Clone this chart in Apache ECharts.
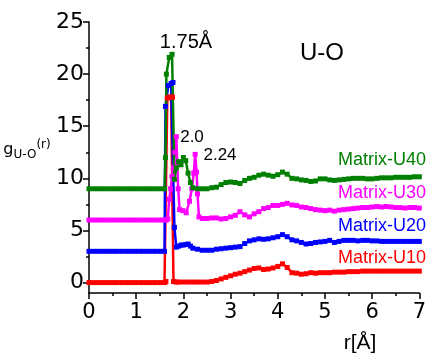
<!DOCTYPE html>
<html>
<head>
<meta charset="utf-8">
<script src="https://cdn.jsdelivr.net/npm/echarts@6/dist/echarts.min.js"></script>
<style>
  html, body { margin: 0; padding: 0; background: #fff; }
  #main { width: 429px; height: 354px; }
</style>
</head>
<body>
<div id="main"></div>
<script>
// g(r) curves, already shifted by +0/+3/+6/+9 as plotted
var matrixU10 = [
  [0, 0], [0.1, 0], [0.2, 0], [0.3, 0], [0.4, 0], [0.5, 0], [0.6, 0], [0.7, 0], [0.8, 0],
  [0.9, 0], [1.0, 0], [1.1, 0], [1.2, 0], [1.3, 0], [1.4, 0], [1.5, 0], [1.6, 0],
  [1.63, 0.1], [1.66, 17.7], [1.7, 17.8], [1.74, 17.8], [1.77, 17.8], [1.79, 0.1],
  [1.85, 0.05], [1.9, 0.05], [2.0, 0.05], [2.1, 0.05], [2.2, 0.05], [2.3, 0.05], [2.4, 0.05],
  [2.5, 0.05], [2.6, 0.1], [2.7, 0.2], [2.8, 0.35], [2.9, 0.5], [3.0, 0.65], [3.1, 0.8],
  [3.2, 0.9], [3.3, 1.05], [3.4, 1.2], [3.5, 1.35], [3.6, 1.4], [3.7, 1.25], [3.8, 1.3],
  [3.9, 1.4], [4.0, 1.55], [4.1, 1.8], [4.2, 1.45], [4.3, 0.95], [4.4, 0.9], [4.5, 0.8],
  [4.6, 0.85], [4.7, 0.95], [4.8, 0.9], [4.9, 0.95], [5.0, 0.95], [5.1, 0.95], [5.2, 1.0],
  [5.3, 1.0], [5.4, 1.0], [5.5, 1.05], [5.6, 1.05], [5.7, 1.05], [5.8, 1.1], [5.9, 1.1],
  [6.0, 1.1], [6.1, 1.1], [6.2, 1.1], [6.3, 1.1], [6.4, 1.1], [6.5, 1.1], [6.6, 1.1],
  [6.7, 1.1], [6.8, 1.1], [6.9, 1.1], [7.0, 1.1]
];
var matrixU20 = [
  [0, 3], [0.1, 3], [0.2, 3], [0.3, 3], [0.4, 3], [0.5, 3], [0.6, 3], [0.7, 3], [0.8, 3],
  [0.9, 3], [1.0, 3], [1.1, 3], [1.2, 3], [1.3, 3], [1.4, 3], [1.5, 3], [1.6, 3],
  [1.62, 16.9], [1.68, 18.9], [1.74, 19.1], [1.78, 19.2], [1.81, 5.3], [1.85, 3.4],
  [1.9, 3.5], [1.95, 3.6], [2.0, 3.6], [2.05, 3.65], [2.1, 3.7], [2.15, 3.5], [2.2, 3.3],
  [2.3, 3.2], [2.4, 3.1], [2.5, 3.1], [2.6, 3.1], [2.7, 3.2], [2.8, 3.25], [2.9, 3.3],
  [3.0, 3.35], [3.1, 3.4], [3.2, 3.45], [3.3, 3.75], [3.4, 4.0], [3.5, 4.1], [3.6, 4.2],
  [3.7, 4.15], [3.8, 4.2], [3.9, 4.3], [4.0, 4.4], [4.1, 4.6], [4.2, 4.4], [4.3, 4.1],
  [4.4, 4.0], [4.5, 3.85], [4.6, 3.7], [4.7, 3.75], [4.8, 3.85], [4.9, 3.9], [5.0, 3.95],
  [5.1, 4.05], [5.2, 3.85], [5.3, 3.95], [5.4, 4.05], [5.5, 4.05], [5.6, 4.05], [5.7, 4.0],
  [5.8, 4.05], [5.9, 4.05], [6.0, 4.0], [6.1, 4.0], [6.2, 3.95], [6.3, 3.95], [6.4, 3.95],
  [6.5, 3.95], [6.6, 3.95], [6.7, 3.95], [6.8, 3.95], [6.9, 3.95], [7.0, 3.95]
];
var matrixU30 = [
  [0, 6], [0.1, 6], [0.2, 6], [0.3, 6], [0.4, 6], [0.5, 6], [0.6, 6], [0.7, 6], [0.8, 6],
  [0.9, 6], [1.0, 6], [1.1, 6], [1.2, 6], [1.3, 6], [1.4, 6], [1.5, 6], [1.6, 6],
  [1.64, 6.0], [1.67, 6.1], [1.7, 8.0], [1.73, 9.0], [1.76, 10.2], [1.79, 11.0],
  [1.82, 12.5], [1.85, 14.0], [1.87, 11.5], [1.89, 9.0], [1.92, 7.0], [1.99, 6.9],
  [2.06, 6.7], [2.13, 7.8], [2.18, 9.0], [2.22, 10.5], [2.25, 12.3], [2.28, 10.6],
  [2.3, 8.5], [2.33, 6.3], [2.4, 6.15], [2.5, 6.15], [2.6, 6.2], [2.7, 6.2], [2.8, 6.1],
  [2.9, 6.15], [3.0, 6.3], [3.1, 6.45], [3.2, 6.8], [3.3, 6.5], [3.4, 6.3], [3.5, 6.6],
  [3.6, 6.8], [3.7, 7.1], [3.8, 7.2], [3.9, 7.4], [4.0, 7.4], [4.1, 7.5], [4.2, 7.6],
  [4.3, 7.45], [4.4, 7.4], [4.5, 7.25], [4.6, 7.2], [4.7, 7.1], [4.8, 7.0], [4.9, 6.95],
  [5.0, 6.9], [5.1, 6.95], [5.2, 6.85], [5.3, 6.95], [5.4, 7.0], [5.5, 7.05], [5.6, 7.1],
  [5.7, 7.15], [5.8, 7.2], [5.9, 7.2], [6.0, 7.25], [6.1, 7.3], [6.2, 7.25], [6.3, 7.3],
  [6.4, 7.25], [6.5, 7.2], [6.6, 7.2], [6.7, 7.15], [6.8, 7.2], [6.9, 7.2], [7.0, 7.15]
];
var matrixU40 = [
  [0, 9], [0.1, 9], [0.2, 9], [0.3, 9], [0.4, 9], [0.5, 9], [0.6, 9], [0.7, 9], [0.8, 9],
  [0.9, 9], [1.0, 9], [1.1, 9], [1.2, 9], [1.3, 9], [1.4, 9], [1.5, 9], [1.6, 9],
  [1.62, 12.0], [1.64, 20.0], [1.7, 21.6], [1.76, 21.9], [1.81, 9.9], [1.85, 11.0],
  [1.9, 11.6], [1.95, 11.3], [2.0, 12.0], [2.05, 11.7], [2.1, 10.5], [2.15, 9.6],
  [2.2, 9.1], [2.3, 9.0], [2.4, 9.0], [2.5, 9.0], [2.6, 9.1], [2.7, 9.15], [2.8, 9.4],
  [2.9, 9.6], [3.0, 9.65], [3.1, 9.6], [3.2, 9.5], [3.3, 9.8], [3.4, 10.0], [3.5, 10.1],
  [3.6, 10.3], [3.7, 10.4], [3.8, 10.3], [3.9, 10.2], [4.0, 10.35], [4.1, 10.6], [4.2, 10.4],
  [4.3, 10.0], [4.4, 9.95], [4.5, 9.85], [4.6, 9.8], [4.7, 9.7], [4.8, 9.75], [4.9, 9.95],
  [5.0, 9.95], [5.1, 9.85], [5.2, 9.8], [5.3, 9.85], [5.4, 9.9], [5.5, 9.95], [5.6, 10.0],
  [5.7, 10.0], [5.8, 10.0], [5.9, 9.95], [6.0, 9.95], [6.1, 10.0], [6.2, 10.05], [6.3, 10.05],
  [6.4, 10.05], [6.5, 10.1], [6.6, 10.1], [6.7, 10.1], [6.8, 10.1], [6.9, 10.15], [7.0, 10.15]
];

var seriesNames = ['Matrix-U10', 'Matrix-U20', 'Matrix-U30', 'Matrix-U40'];
var seriesColors = ['#ff0000', '#0000ff', '#ff00ff', '#008000'];
var yTicks = [0, 5, 10, 15, 20, 25];
var yMinorTicks = [2.5, 7.5, 12.5, 17.5, 22.5];

var chart = echarts.init(document.getElementById('main'));

var black = { color: '#000', width: 1.5 };
var allData = [matrixU10, matrixU20, matrixU30, matrixU40];
var series = allData.map(function (d, i) {
  return {
    name: seriesNames[i],
    type: 'line',
    data: d,
    symbol: 'rect',
    symbolSize: 5,
    lineStyle: { color: seriesColors[i], width: 2.5 },
    itemStyle: { color: seriesColors[i] },
    animation: false
  };
});

// curve labels next to the tails (sized to fit inside the frame)
var labelY = [258, 226, 193, 160];
var graphics = seriesNames.map(function (n, i) {
  return {
    type: 'text', x: 426, y: labelY[i],
    style: { text: n, fill: seriesColors[i], font: '18px "Liberation Sans"', align: 'right', verticalAlign: 'middle' }
  };
});
graphics.push(
  { type: 'text', x: 186, y: 42, style: { text: '1.75Å', fill: '#000', font: '20px "Liberation Sans"', align: 'center', verticalAlign: 'middle' } },
  { type: 'text', x: 192, y: 137, style: { text: '2.0', fill: '#000', font: '17px "Liberation Sans"', align: 'center', verticalAlign: 'middle' } },
  { type: 'text', x: 220, y: 155, style: { text: '2.24', fill: '#000', font: '17px "Liberation Sans"', align: 'center', verticalAlign: 'middle' } },
  { type: 'text', x: 322, y: 53, style: { text: 'U-O', fill: '#000', font: '24px "Liberation Sans"', align: 'center', verticalAlign: 'middle' } },
  { type: 'text', x: 360, y: 343, style: { text: 'r[Å]', fill: '#000', font: '21px "Liberation Sans"', align: 'center', verticalAlign: 'middle' } },
  // y axis title, kept in the gap left of the tick labels
  {
    type: 'text', x: 27, y: 150,
    style: {
      text: '{g|g}{s|U-O}{p|(r)}', align: 'center', verticalAlign: 'middle',
      rich: {
        g: { fontSize: 16, fontFamily: 'DejaVu Sans', lineHeight: 22, verticalAlign: 'middle', color: '#000' },
        s: { fontSize: 12, fontFamily: 'DejaVu Sans', lineHeight: 22, verticalAlign: 'bottom', color: '#000' },
        p: { fontSize: 12, fontFamily: 'DejaVu Sans', lineHeight: 22, verticalAlign: 'top', color: '#000' }
      }
    }
  }
);

var option = {
  backgroundColor: '#fff',
  animation: false,
  grid: { left: 89, right: 4, top: 22, bottom: 61 },
  xAxis: {
    type: 'value', min: 0, max: 7, interval: 1,
    axisLine: { show: true, onZero: false, lineStyle: black },
    axisTick: { show: true, length: 6, lineStyle: black },
    minorTick: { show: true, splitNumber: 2, length: 3, lineStyle: black },
    splitLine: { show: false },
    axisLabel: { color: '#000', fontFamily: 'DejaVu Sans', fontSize: 21, margin: 9, showMaxLabel: true }
  },
  yAxis: [{
    type: 'value', min: -1, max: 25,
    axisLine: { show: true, onZero: false, lineStyle: black },
    axisTick: { show: true, length: 6, lineStyle: black, customValues: yTicks },
    splitLine: { show: false },
    axisLabel: { color: '#000', fontFamily: 'DejaVu Sans', fontSize: 22, margin: 5, customValues: yTicks }
  }, {
    // minor ticks only
    type: 'value', min: -1, max: 25, position: 'left',
    axisLine: { show: false, onZero: false },
    axisTick: { show: true, length: 3, lineStyle: black, customValues: yMinorTicks },
    splitLine: { show: false },
    axisLabel: { show: false }
  }],
  series: series,
  graphic: graphics
};

chart.setOption(option);
</script>
</body>
</html>
